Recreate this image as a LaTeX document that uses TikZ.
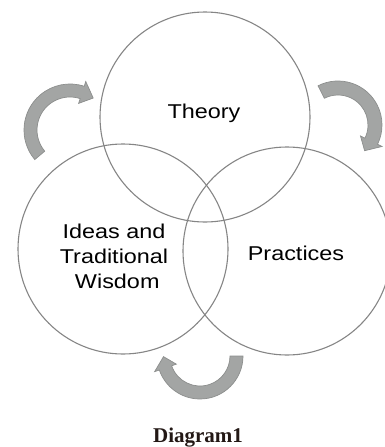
\documentclass[tikz,border=0pt]{standalone}
\usepackage{fontspec}
\newfontfamily\labelfont[FakeStretch=1.17]{Liberation Sans}
\newfontfamily\captionfont{Liberation Serif}
\definecolor{ringgray}{HTML}{858585}
\definecolor{arrowfill}{HTML}{A3A5A4}
\definecolor{arrowline}{HTML}{8C8E8D}
\definecolor{captioncol}{HTML}{231815}
\tikzset{
  ring/.style={circle, draw=ringgray, line width=1.1pt, minimum size=#1, inner sep=0pt},
  lbl/.style={font=\labelfont\fontsize{20}{25}\selectfont, align=center, inner sep=0pt},
  cyclearrow/.style={fill=arrowfill, draw=arrowline, line width=0.7pt, line join=miter}
}
% #1 start angle, #2 end angle (body), #3 inner radius, #4 outer radius
\newcommand{\ringarrow}[4]{%
  \pgfmathsetmacro{\rmid}{(#3+#4)/2}%
  \pgfmathsetmacro{\rinh}{#3-5}%
  \pgfmathsetmacro{\routh}{#4+5}%
  \pgfmathsetmacro{\tipang}{#2+18}%
  \path[cyclearrow] (#1:#4) arc[start angle=#1, end angle=#2, radius=#4]
    -- (#2:\routh) -- (\tipang:\rmid) -- (#2:\rinh) -- (#2:#3)
    arc[start angle=#2, end angle=#1, radius=#3] -- cycle;}
\begin{document}
\begin{tikzpicture}[x=1pt, y=-1pt]
\useasboundingbox (0,0) rectangle (385,447);
\node[ring=210pt] (ctheory) at (205,117) {};
\node[ring=210pt] (cideas) at (123,249) {};
\node[ring=208pt] (cpractice) at (287,251) {};
\node[lbl, anchor=base] (theory) at (204,118) {Theory};
\node[lbl, anchor=base] (practices) at (296,260) {Practices};
\node[lbl] (ideas) at (114,256) {Ideas and\\Traditional\\\ Wisdom};
\begin{scope}[shift={(70,130)}]
  \ringarrow{140}{288}{33}{46}
\end{scope}
\begin{scope}[shift={(338,125)}]
  \ringarrow{243}{386}{30}{44}
\end{scope}
\begin{scope}[shift={(200,356)}]
  \ringarrow{0}{161}{30}{43}
\end{scope}
\node[anchor=base, inner sep=0pt, text=captioncol, font=\captionfont\bfseries\fontsize{21}{25}\selectfont] (caption) at (198,442) {Diagram1};
\end{tikzpicture}
\end{document}
